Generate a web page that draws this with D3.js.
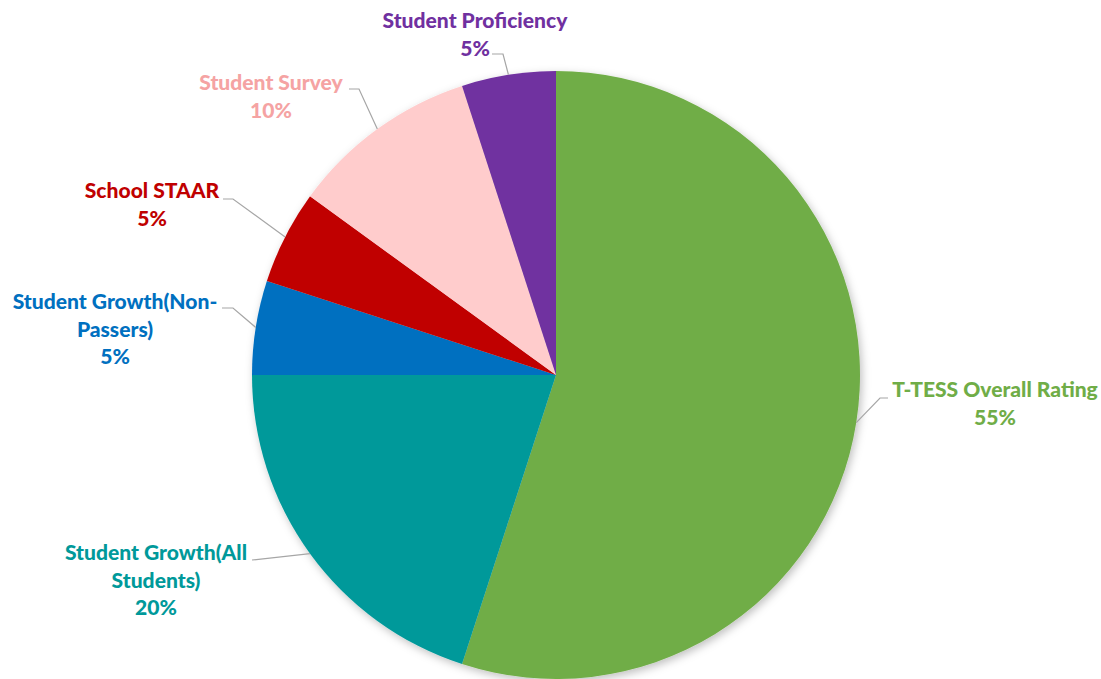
<!DOCTYPE html>
<html><head><meta charset="utf-8">
<script src="https://cdn.jsdelivr.net/npm/d3@7/dist/d3.min.js"></script>
<style>html,body{margin:0;padding:0;background:#fff;}</style>
</head><body>
<svg id="chart" width="1101" height="679"></svg>
<script>
// Data
const categories = ["T-TESS Overall Rating", "Student Growth(All Students)", "Student Growth(Non-Passers)", "School STAAR", "Student Survey", "Student Proficiency"];
const values = [55, 20, 5, 5, 10, 5];
const labelLines = [["T-TESS Overall Rating"], ["Student Growth(All", "Students)"], ["Student Growth(Non-", "Passers)"], ["School STAAR"], ["Student Survey"], ["Student Proficiency"]];

// Styles / layout
const sliceColors = ["#70AD47", "#00999A", "#0070C0", "#C00000", "#FFCCCC", "#7030A0"];
const textColors = ["#70AD47", "#00999A", "#0070C0", "#C00000", "#F5A3A3", "#7030A0"];
const labelLayout = [
  {x: 995, y: 397, ex: [888, 880], ey: 398},
  {x: 156, y: 560, ex: [252, 252], ey: 560},
  {x: 115, y: 309, ex: [222, 233], ey: 308},
  {x: 152, y: 198, ex: [223, 233], ey: 199},
  {x: 271, y: 90, ex: [349, 359], ey: 89, angle: 324},
  {x: 475, y: 28, ex: [492, 503], ey: 54}
];

const svg = d3.select("#chart");
const cx = 556, cy = 375, r = 304;

const defs = svg.append("defs");
const f = defs.append("filter").attr("id", "sh").attr("x", "-10%").attr("y", "-10%").attr("width", "120%").attr("height", "120%");
f.append("feDropShadow").attr("dx", 2).attr("dy", 3).attr("stdDeviation", 4).attr("flood-color", "#000").attr("flood-opacity", 0.25);

const pie = d3.pie().sort(null).value(d => d).startAngle(0).endAngle(2 * Math.PI);
const arcs = pie(values);
const arc = d3.arc().innerRadius(0).outerRadius(r);

const g = svg.append("g").attr("transform", `translate(${cx},${cy})`);
g.append("g").attr("filter", "url(#sh)")
  .selectAll("path").data(arcs).join("path")
  .attr("d", arc)
  .attr("fill", (d, i) => sliceColors[i]);

const total = d3.sum(values);
arcs.forEach((d, i) => {
  const L = labelLayout[i];
  const a = L.angle !== undefined ? L.angle * Math.PI / 180 : (d.startAngle + d.endAngle) / 2;
  const px = cx + r * Math.sin(a), py = cy - r * Math.cos(a);
  const pts = [[L.ex[0], L.ey], [L.ex[1], L.ey], [px, py]];
  svg.append("path")
    .attr("d", d3.line()(pts))
    .attr("fill", "none")
    .attr("stroke", "#A6A6A6")
    .attr("stroke-width", 1.2);
});

// font size fitted so "Student Proficiency" is ~185px wide, like the reference
const fontFam = "Lato, 'Open Sans', sans-serif";
const fw = 900;
const probe = svg.append("text").attr("font-family", fontFam).attr("font-weight", fw).attr("font-size", 20).text("Student Proficiency");
const w20 = probe.node().getComputedTextLength();
probe.remove();
const fs = 20 * 185 / w20;

const fmt = d3.format(".0%");
arcs.forEach((d, i) => {
  const L = labelLayout[i];
  const lines = labelLines[i].concat([fmt(d.value / total)]);
  const t = svg.append("text")
    .attr("text-anchor", "middle")
    .attr("font-family", fontFam)
    .attr("font-weight", fw)
    .attr("font-size", fs)
    .attr("fill", textColors[i]);
  lines.forEach((s, k) => {
    t.append("tspan").attr("x", L.x).attr("y", L.y + k * 27.7).text(s);
  });
});
</script>
</body></html>
